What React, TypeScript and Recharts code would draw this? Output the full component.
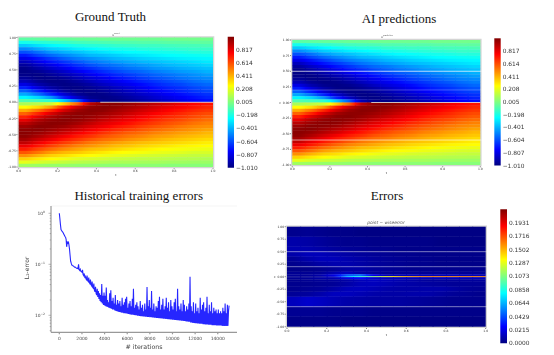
import { ComposedChart, Line, XAxis, YAxis, ReferenceArea, ReferenceLine } from "recharts";

// x rows from top to bottom, each 0.05 high; t columns share one width
const xTopEdges = [
  1, 0.95, 0.9, 0.85, 0.8, 0.75, 0.7, 0.65, 0.6, 0.55, 0.5, 0.45, 0.4, 0.35, 0.3, 0.25, 0.2, 0.15, 0.1, 0.05,
  0, -0.05, -0.1, -0.15, -0.2, -0.25, -0.3, -0.35, -0.4, -0.45, -0.5, -0.55, -0.6, -0.65, -0.7, -0.75, -0.8, -0.85, -0.9, -0.95, -1,
];
const tEdges = [0, 0.067, 0.133, 0.2, 0.267, 0.333, 0.4, 0.467, 0.533, 0.6, 0.667, 0.733, 0.8, 0.867, 0.933, 1];

const exactRows = [
  [-0.07, -0.06, -0.05, -0.05, -0.04, -0.04, -0.03, -0.03, -0.03, -0.03, -0.03, -0.02, -0.02, -0.02, -0.02],
  [-0.21, -0.18, -0.16, -0.14, -0.12, -0.11, -0.1, -0.09, -0.09, -0.08, -0.08, -0.07, -0.07, -0.06, -0.06],
  [-0.35, -0.3, -0.26, -0.23, -0.2, -0.18, -0.17, -0.15, -0.14, -0.13, -0.13, -0.12, -0.11, -0.11, -0.1],
  [-0.48, -0.41, -0.35, -0.32, -0.28, -0.26, -0.23, -0.21, -0.2, -0.18, -0.17, -0.16, -0.15, -0.14, -0.14],
  [-0.6, -0.53, -0.45, -0.4, -0.37, -0.33, -0.3, -0.27, -0.25, -0.24, -0.22, -0.21, -0.2, -0.18, -0.18],
  [-0.71, -0.62, -0.55, -0.49, -0.44, -0.39, -0.37, -0.34, -0.31, -0.29, -0.27, -0.25, -0.24, -0.23, -0.22],
  [-0.8, -0.72, -0.64, -0.57, -0.51, -0.47, -0.43, -0.39, -0.37, -0.34, -0.32, -0.3, -0.28, -0.27, -0.26],
  [-0.89, -0.8, -0.72, -0.65, -0.59, -0.53, -0.49, -0.45, -0.42, -0.39, -0.37, -0.35, -0.33, -0.31, -0.29],
  [-0.95, -0.87, -0.8, -0.72, -0.66, -0.6, -0.55, -0.52, -0.48, -0.45, -0.42, -0.39, -0.37, -0.35, -0.33],
  [-0.99, -0.93, -0.86, -0.79, -0.72, -0.67, -0.61, -0.57, -0.53, -0.5, -0.46, -0.44, -0.41, -0.39, -0.37],
  [-1, -0.97, -0.92, -0.86, -0.79, -0.73, -0.67, -0.62, -0.58, -0.55, -0.51, -0.48, -0.45, -0.43, -0.4],
  [-0.99, -1, -0.96, -0.91, -0.86, -0.79, -0.73, -0.68, -0.64, -0.6, -0.56, -0.53, -0.5, -0.47, -0.44],
  [-0.96, -1, -0.99, -0.96, -0.9, -0.84, -0.79, -0.73, -0.69, -0.64, -0.6, -0.57, -0.53, -0.5, -0.48],
  [-0.9, -0.97, -1, -0.99, -0.95, -0.89, -0.83, -0.79, -0.74, -0.69, -0.65, -0.61, -0.58, -0.54, -0.51],
  [-0.81, -0.92, -0.98, -1, -0.98, -0.94, -0.88, -0.83, -0.79, -0.74, -0.69, -0.65, -0.62, -0.58, -0.55],
  [-0.7, -0.83, -0.93, -0.99, -1, -0.97, -0.93, -0.88, -0.83, -0.78, -0.73, -0.69, -0.66, -0.62, -0.59],
  [-0.57, -0.7, -0.84, -0.95, -0.99, -0.99, -0.96, -0.92, -0.87, -0.82, -0.77, -0.73, -0.69, -0.65, -0.62],
  [-0.42, -0.54, -0.69, -0.85, -0.96, -1, -0.99, -0.95, -0.91, -0.86, -0.82, -0.77, -0.73, -0.69, -0.66],
  [-0.26, -0.33, -0.46, -0.7, -0.87, -0.98, -1, -0.98, -0.94, -0.9, -0.85, -0.81, -0.77, -0.73, -0.69],
  [-0.09, -0.12, -0.16, -0.36, -0.57, -0.9, -0.99, -1, -0.97, -0.93, -0.89, -0.85, -0.8, -0.76, -0.73],
  [0.09, 0.12, 0.16, 0.36, 0.57, 0.9, 0.99, 1, 0.97, 0.93, 0.89, 0.85, 0.8, 0.76, 0.73],
  [0.26, 0.33, 0.46, 0.7, 0.87, 0.98, 1, 0.98, 0.94, 0.9, 0.85, 0.81, 0.77, 0.73, 0.69],
  [0.42, 0.54, 0.69, 0.85, 0.96, 1, 0.99, 0.95, 0.91, 0.86, 0.82, 0.77, 0.73, 0.69, 0.66],
  [0.57, 0.7, 0.84, 0.95, 0.99, 0.99, 0.96, 0.92, 0.87, 0.82, 0.77, 0.73, 0.69, 0.65, 0.62],
  [0.7, 0.83, 0.93, 0.99, 1, 0.97, 0.93, 0.88, 0.83, 0.78, 0.73, 0.69, 0.66, 0.62, 0.59],
  [0.81, 0.92, 0.98, 1, 0.98, 0.94, 0.88, 0.83, 0.79, 0.74, 0.69, 0.65, 0.62, 0.58, 0.55],
  [0.9, 0.97, 1, 0.99, 0.95, 0.89, 0.83, 0.79, 0.74, 0.69, 0.65, 0.61, 0.58, 0.54, 0.51],
  [0.96, 1, 0.99, 0.96, 0.9, 0.84, 0.79, 0.73, 0.69, 0.64, 0.6, 0.57, 0.53, 0.5, 0.48],
  [0.99, 1, 0.96, 0.91, 0.86, 0.79, 0.73, 0.68, 0.64, 0.6, 0.56, 0.53, 0.5, 0.47, 0.44],
  [1, 0.97, 0.92, 0.86, 0.79, 0.73, 0.67, 0.62, 0.58, 0.55, 0.51, 0.48, 0.45, 0.43, 0.4],
  [0.99, 0.93, 0.86, 0.79, 0.72, 0.67, 0.61, 0.57, 0.53, 0.5, 0.46, 0.44, 0.41, 0.39, 0.37],
  [0.95, 0.87, 0.8, 0.72, 0.66, 0.6, 0.55, 0.52, 0.48, 0.45, 0.42, 0.39, 0.37, 0.35, 0.33],
  [0.89, 0.8, 0.72, 0.65, 0.59, 0.53, 0.49, 0.45, 0.42, 0.39, 0.37, 0.35, 0.33, 0.31, 0.29],
  [0.8, 0.72, 0.64, 0.57, 0.51, 0.47, 0.43, 0.39, 0.37, 0.34, 0.32, 0.3, 0.28, 0.27, 0.26],
  [0.71, 0.62, 0.55, 0.49, 0.44, 0.39, 0.37, 0.34, 0.31, 0.29, 0.27, 0.25, 0.24, 0.23, 0.22],
  [0.6, 0.53, 0.45, 0.4, 0.37, 0.33, 0.3, 0.27, 0.25, 0.24, 0.22, 0.21, 0.2, 0.18, 0.18],
  [0.48, 0.41, 0.35, 0.32, 0.28, 0.26, 0.23, 0.21, 0.2, 0.18, 0.17, 0.16, 0.15, 0.14, 0.14],
  [0.35, 0.3, 0.26, 0.23, 0.2, 0.18, 0.17, 0.15, 0.14, 0.13, 0.13, 0.12, 0.11, 0.11, 0.1],
  [0.21, 0.18, 0.16, 0.14, 0.12, 0.11, 0.1, 0.09, 0.09, 0.08, 0.08, 0.07, 0.07, 0.06, 0.06],
  [0.07, 0.06, 0.05, 0.05, 0.04, 0.04, 0.03, 0.03, 0.03, 0.03, 0.03, 0.02, 0.02, 0.02, 0.02],
];

// rows of the error panel are uneven, the middle one is the thin line at x = 0
const errorXEdges = [1, 0.8, 0.6, 0.5, 0.4, 0.3, 0.2, 0.1, 0.05, 0.009, -0.009, -0.05, -0.1, -0.2, -0.3, -0.4, -0.6, -0.8, -1];
const errorRows = [
  [0.003, 0.004, 0.003, 0.002, 0.002, 0.001, 0.001, 0.001, 0.001, 0.001, 0.001, 0.001, 0.001, 0.001, 0.001],
  [0.009, 0.008, 0.006, 0.004, 0.003, 0.003, 0.002, 0.002, 0.002, 0.002, 0.002, 0.001, 0.001, 0.001, 0.001],
  [0.01, 0.01, 0.008, 0.006, 0.005, 0.004, 0.003, 0.003, 0.002, 0.002, 0.002, 0.002, 0.002, 0.002, 0.002],
  [0.009, 0.012, 0.012, 0.01, 0.008, 0.006, 0.005, 0.004, 0.003, 0.003, 0.002, 0.002, 0.002, 0.002, 0.002],
  [0.005, 0.009, 0.012, 0.012, 0.01, 0.008, 0.006, 0.005, 0.004, 0.003, 0.003, 0.002, 0.002, 0.002, 0.002],
  [0.003, 0.005, 0.008, 0.01, 0.01, 0.008, 0.006, 0.005, 0.004, 0.003, 0.003, 0.002, 0.002, 0.002, 0.002],
  [0.002, 0.002, 0.003, 0.005, 0.008, 0.008, 0.006, 0.005, 0.004, 0.003, 0.003, 0.003, 0.003, 0.003, 0.003],
  [0.004, 0.004, 0.005, 0.01, 0.014, 0.009, 0.006, 0.005, 0.005, 0.005, 0.005, 0.005, 0.005, 0.005, 0.005],
  [0.005, 0.005, 0.009, 0.02, 0.045, 0.05, 0.022, 0.011, 0.011, 0.011, 0.011, 0.011, 0.011, 0.011, 0.011],
  [0.004, 0.004, 0.006, 0.018, 0.065, 0.09, 0.11, 0.13, 0.145, 0.155, 0.16, 0.16, 0.16, 0.16, 0.16],
  [0.004, 0.005, 0.008, 0.01, 0.022, 0.028, 0.016, 0.012, 0.012, 0.012, 0.012, 0.012, 0.012, 0.012, 0.012],
  [0.003, 0.004, 0.005, 0.006, 0.008, 0.012, 0.014, 0.012, 0.01, 0.008, 0.006, 0.006, 0.006, 0.006, 0.006],
  [0.003, 0.003, 0.004, 0.005, 0.008, 0.012, 0.013, 0.011, 0.009, 0.008, 0.007, 0.006, 0.005, 0.005, 0.005],
  [0.003, 0.004, 0.005, 0.008, 0.012, 0.013, 0.011, 0.009, 0.008, 0.008, 0.009, 0.009, 0.007, 0.005, 0.004],
  [0.005, 0.006, 0.009, 0.013, 0.013, 0.011, 0.009, 0.008, 0.008, 0.009, 0.009, 0.007, 0.005, 0.004, 0.003],
  [0.013, 0.016, 0.014, 0.011, 0.009, 0.008, 0.007, 0.007, 0.007, 0.006, 0.005, 0.004, 0.003, 0.003, 0.003],
  [0.004, 0.004, 0.004, 0.003, 0.003, 0.003, 0.002, 0.002, 0.002, 0.002, 0.002, 0.002, 0.002, 0.002, 0.002],
  [0.002, 0.002, 0.002, 0.002, 0.001, 0.001, 0.001, 0.001, 0.001, 0.001, 0.001, 0.001, 0.001, 0.001, 0.001],
];

const tTicks = [0, 0.2, 0.4, 0.6, 0.8, 1];
const xTicks = [1, 0.75, 0.5, 0.25, 0, -0.25, -0.5, -0.75, -1];
const predictionGaps = [0.5, 0.2, -0.6];
const fieldBarTicks = [-1.01, -0.807, -0.604, -0.401, -0.198, 0.005, 0.208, 0.411, 0.614, 0.817];
const errorBarTicks = [0, 0.0215, 0.0429, 0.0644, 0.0858, 0.1073, 0.1287, 0.1502, 0.1716, 0.1931];

// training error, one reading every 50 iterations, one line per 1000
const lossValues = [
  1.0, 0.78, 0.6, 0.48, 0.46, 0.44, 0.43, 0.41, 0.39, 0.37, 0.35, 0.34, 0.31, 0.22, 0.27, 0.26, 0.28, 0.24, 0.2, 0.15,
  0.115, 0.105, 0.097, 0.095, 0.094, 0.092, 0.09, 0.088, 0.088, 0.086, 0.085, 0.083, 0.084, 0.082, 0.1, 0.079, 0.076, 0.08, 0.073, 0.072,
  0.07, 0.078, 0.063, 0.06, 0.066, 0.056, 0.058, 0.052, 0.05, 0.06, 0.048, 0.046, 0.055, 0.044, 0.042, 0.05, 0.04, 0.038, 0.046, 0.035,
  0.034, 0.042, 0.031, 0.029, 0.036, 0.027, 0.025, 0.033, 0.023, 0.03, 0.021, 0.027, 0.019, 0.025, 0.018, 0.041, 0.017, 0.024, 0.016, 0.028,
  0.0155, 0.024, 0.015, 0.035, 0.0148, 0.02, 0.0145, 0.018, 0.014, 0.027, 0.0138, 0.031, 0.0135, 0.019, 0.013, 0.022, 0.013, 0.017, 0.0125, 0.025,
  0.0122, 0.016, 0.012, 0.02, 0.0118, 0.017, 0.0116, 0.019, 0.0115, 0.015, 0.0113, 0.022, 0.0112, 0.016, 0.011, 0.018, 0.011, 0.021, 0.0108, 0.023,
  0.0108, 0.014, 0.0106, 0.017, 0.0105, 0.019, 0.0104, 0.015, 0.0103, 0.021, 0.0102, 0.033, 0.0101, 0.014, 0.01, 0.016, 0.01, 0.018, 0.0098, 0.015,
  0.0098, 0.013, 0.0097, 0.019, 0.0096, 0.014, 0.0096, 0.016, 0.0095, 0.012, 0.0095, 0.017, 0.0094, 0.013, 0.0094, 0.036, 0.0093, 0.015, 0.0093, 0.02,
  0.0092, 0.014, 0.0092, 0.03, 0.0091, 0.013, 0.0091, 0.017, 0.009, 0.012, 0.009, 0.015, 0.0089, 0.014, 0.0089, 0.019, 0.0088, 0.023, 0.0088, 0.013,
  0.0087, 0.016, 0.0087, 0.021, 0.0086, 0.013, 0.0086, 0.015, 0.0085, 0.022, 0.0085, 0.014, 0.0084, 0.018, 0.0084, 0.012, 0.0083, 0.02, 0.0083, 0.015,
  0.0082, 0.013, 0.0082, 0.018, 0.0081, 0.021, 0.0081, 0.012, 0.008, 0.033, 0.008, 0.015, 0.0079, 0.013, 0.0079, 0.017, 0.0078, 0.012, 0.0078, 0.02,
  0.0077, 0.016, 0.0077, 0.012, 0.0076, 0.015, 0.0076, 0.013, 0.0075, 0.017, 0.0075, 0.057, 0.0072, 0.015, 0.0072, 0.012, 0.0071, 0.018, 0.0071, 0.011,
  0.007, 0.017, 0.007, 0.012, 0.0069, 0.014, 0.0069, 0.011, 0.0068, 0.022, 0.0068, 0.013, 0.0068, 0.016, 0.0067, 0.018, 0.0067, 0.012, 0.0066, 0.014,
  0.0066, 0.023, 0.0066, 0.011, 0.0065, 0.016, 0.0065, 0.012, 0.0065, 0.018, 0.0064, 0.011, 0.0064, 0.014, 0.0064, 0.012, 0.0064, 0.013, 0.0063, 0.011,
  0.0063, 0.013, 0.0063, 0.011, 0.0063, 0.012, 0.0063, 0.011, 0.0062, 0.014, 0.0062, 0.012, 0.0062, 0.017, 0.0062, 0.011, 0.0062, 0.016, 0.0062, 0.012,
  0.0155,
];
const iterationTicks = [0, 2000, 4000, 6000, 8000, 10000, 12000, 14000];
const lossMajorTicks = [1, 0.1, 0.01];
const lossMinorTicks = [
  0.9, 0.8, 0.7, 0.6, 0.5, 0.4, 0.3, 0.2, 0.09, 0.08, 0.07, 0.06, 0.05, 0.04, 0.03, 0.02, 0.009, 0.008, 0.007, 0.006, 0.005,
];
const lossData = lossValues.map((error, i) => ({ iteration: i * 50, error }));

const W = 554;
const H = 355;

function jet(ratio: number) {
  const c = (v: number) => Math.round(255 * Math.min(1, Math.max(0, v)));
  const r = Math.abs(4 * ratio - 3);
  const g = Math.abs(4 * ratio - 2);
  const b = Math.abs(4 * ratio - 1);
  return `rgb(${c(1.5 - r)},${c(1.5 - g)},${c(1.5 - b)})`;
}

function Layer({ children, blur = 0.5 }: { children: any; blur?: number }) {
  return <div style={{ position: "absolute", left: 0, top: 0, filter: `blur(${blur}px)` }}>{children}</div>;
}

function Heatmap({
  id,
  rows,
  xEdges,
  left,
  right,
  top,
  bottom,
  min,
  max,
  gaps = [],
  gapOpacity = [],
  seam = false,
  yLabel = false,
}: {
  id: string;
  rows: number[][];
  xEdges: number[];
  left: number;
  right: number;
  top: number;
  bottom: number;
  min: number;
  max: number;
  gaps?: number[];
  gapOpacity?: number[];
  seam?: boolean;
  yLabel?: boolean;
}) {
  // the light frame sits just outside the image, so the domains run a little past it
  const padX = 1.3 / (right - left);
  const padY = (1.3 * 2) / (bottom - top);
  const lap = 0.004;
  // corners of the image, they give the chart a series to hold its axes
  const corners = [
    { t: 0, x: -1 },
    { t: 1, x: 1 },
  ];
  const ratio = (v: number) => (v - min) / (max - min);
  return (
    <Layer blur={0.6}>
      <ComposedChart
        width={W}
        height={H}
        data={corners}
        margin={{ top: top - 1.3, left: left - 1.3 - 12, right: W - right - 1.3, bottom: H - bottom - 1.3 - 8 }}
      >
        <defs>
          {/* each cell fades to its neighbours across t so columns do not show as blocks */}
          {rows.flatMap((row, r) =>
            row.map((value, c) => {
              const before = (row[Math.max(0, c - 1)] + value) / 2;
              const after = (row[Math.min(row.length - 1, c + 1)] + value) / 2;
              return (
                <linearGradient key={`${r}-${c}`} id={`${id}-${r}-${c}`} x1="0" y1="0" x2="1" y2="0">
                  <stop offset={0} stopColor={jet(ratio(before))} />
                  <stop offset={0.5} stopColor={jet(ratio(value))} />
                  <stop offset={1} stopColor={jet(ratio(after))} />
                </linearGradient>
              );
            })
          )}
        </defs>
        <XAxis
          type="number"
          dataKey="t"
          domain={[-padX, 1 + padX]}
          ticks={tTicks}
          height={8}
          axisLine={false}
          tickSize={1}
          tickMargin={0.5}
          stroke="#777"
          tick={{ fontSize: 3, fill: "#333", fontFamily: "DejaVu Sans" }}
          tickFormatter={(v: number) => v.toFixed(1)}
          interval={0}
          label={{ value: "t", position: "insideBottom", offset: 0.5, fontSize: 3, fill: "#333", fontFamily: "DejaVu Sans" }}
        />
        <YAxis
          type="number"
          dataKey="x"
          domain={[-1 - padY, 1 + padY]}
          ticks={xTicks}
          width={12}
          axisLine={false}
          tickSize={1}
          tickMargin={0.5}
          stroke="#777"
          tick={{ fontSize: 3, fill: "#333", fontFamily: "DejaVu Sans" }}
          tickFormatter={(v: number) => v.toFixed(2)}
          interval={0}
          label={yLabel ? { value: "x", position: "insideLeft", offset: 0, fontSize: 3, fill: "#333", fontFamily: "DejaVu Sans" } : undefined}
        />
        <ReferenceArea x1={-padX} x2={1 + padX} y1={-1 - padY} y2={1 + padY} fill="#d4d4d4" fillOpacity={1} stroke="none" ifOverflow="visible" />
        {rows.flatMap((row, r) =>
          row.map((_, c) => (
            <ReferenceArea
              key={`${r}-${c}`}
              x1={tEdges[c]}
              x2={Math.min(1, tEdges[c + 1] + lap)}
              y1={xEdges[r]}
              y2={Math.max(-1, xEdges[r + 1] - lap)}
              fill={`url(#${id}-${r}-${c})`}
              fillOpacity={1}
              stroke="none"
              ifOverflow="visible"
            />
          ))
        )}
        {gaps.map((x, i) => (
          <ReferenceLine key={x} y={x} stroke="#ffffff" strokeOpacity={gapOpacity[i]} strokeWidth={1} />
        ))}
        {seam && (
          <ReferenceLine
            segment={[
              { x: 0.42, y: 0 },
              { x: 1, y: 0 },
            ]}
            stroke="#f0f0e0"
            strokeOpacity={0.85}
            strokeWidth={0.9}
          />
        )}
        <Line dataKey="x" stroke="none" dot={false} legendType="none" isAnimationActive={false} />
      </ComposedChart>
    </Layer>
  );
}

function Colorbar({
  left,
  right,
  top,
  bottom,
  min,
  max,
  ticks,
  digits,
  id,
}: {
  left: number;
  right: number;
  top: number;
  bottom: number;
  min: number;
  max: number;
  ticks: number[];
  digits: number;
  id: string;
}) {
  const stops = [0, 0.125, 0.375, 0.625, 0.875, 1];
  const ends = [
    { s: 0, v: min },
    { s: 1, v: max },
  ];
  return (
    <Layer blur={0.3}>
      <ComposedChart
        width={W}
        height={H}
        data={ends}
        margin={{ top, left, right: W - right - 28, bottom: H - bottom }}
      >
        <defs>
          <linearGradient id={id} x1="0" y1="1" x2="0" y2="0">
            {stops.map((s) => (
              <stop key={s} offset={s} stopColor={jet(s)} />
            ))}
          </linearGradient>
        </defs>
        <XAxis type="number" dataKey="s" domain={[0, 1]} hide />
        <YAxis
          type="number"
          dataKey="v"
          orientation="right"
          domain={[min, max]}
          ticks={ticks}
          width={28}
          axisLine={false}
          tickLine={false}
          tickSize={0}
          tickMargin={2}
          stroke="#333"
          interval={0}
          tick={{ fontSize: 5.9, fill: "#333", fontFamily: "DejaVu Sans", textAnchor: "start" }}
          tickFormatter={(v: number) => v.toFixed(digits).replace("-", "\u2212")}
        />
        <ReferenceArea x1={0} x2={1} y1={min} y2={max} fill={`url(#${id})`} fillOpacity={1} stroke="none" ifOverflow="visible" />
        <Line dataKey="v" stroke="none" dot={false} legendType="none" isAnimationActive={false} />
      </ComposedChart>
    </Layer>
  );
}

function LossTick({ x, y, payload }: any) {
  const major = lossMajorTicks.includes(payload.value);
  return (
    <g>
      <line x1={x} x2={x - (major ? 2.5 : 1.3)} y1={y} y2={y} stroke="#777" strokeWidth={0.5} />
      {major && (
        <text x={x - 6} y={y + 1.5} textAnchor="end" fontSize={4.4} fill="#444" fontFamily="DejaVu Sans">
          10
          <tspan dy={-1.6} fontSize={3}>
            {payload.value === 1 ? "0" : payload.value === 0.1 ? "\u22121" : "\u22122"}
          </tspan>
        </text>
      )}
    </g>
  );
}

function LossChart() {
  return (
    <Layer blur={0.35}>
      <ComposedChart
        width={W}
        height={H}
        data={lossData}
        margin={{ top: 206, left: 31, right: W - 237, bottom: H - 332.3 - 20 }}
      >
        <XAxis
          type="number"
          dataKey="iteration"
          domain={[-735, 15700]}
          ticks={iterationTicks}
          height={20}
          interval={0}
          tickSize={2}
          tickMargin={2.5}
          stroke="#999"
          strokeWidth={1.2}
          tick={{ fontSize: 4.4, fill: "#444", fontFamily: "DejaVu Sans" }}
          label={{ value: "# iterations", position: "insideBottom", offset: 3.5, fontSize: 6.3, fill: "#444", fontFamily: "DejaVu Sans" }}
        />
        <YAxis
          type="number"
          scale="log"
          domain={[0.00464, 1.39]}
          allowDataOverflow
          ticks={[...lossMajorTicks, ...lossMinorTicks]}
          width={20}
          interval={0}
          tickSize={0}
          tickMargin={0}
          stroke="#999"
          strokeWidth={1.2}
          tick={<LossTick />}
          label={{ value: "L\u2082-error", angle: -90, position: "insideLeft", offset: -4, dy: 10, fontSize: 6, fill: "#444", fontFamily: "DejaVu Sans" }}
        />
        <ReferenceLine y={1.39} stroke="#eeeeee" strokeWidth={0.6} />
        <Line
          type="linear"
          dataKey="error"
          stroke="#0000ff"
          strokeOpacity={0.85}
          strokeWidth={1.1}
          dot={false}
          isAnimationActive={false}
        />
      </ComposedChart>
    </Layer>
  );
}

function Title({ text, cx, cy }: { text: string; cx: number; cy: number }) {
  return (
    <div
      style={{
        position: "absolute",
        left: cx - 100,
        top: cy - 9,
        width: 200,
        height: 18,
        lineHeight: "18px",
        textAlign: "center",
        fontFamily: "Liberation Serif",
        fontSize: 13,
        color: "#111",
      }}
    >
      {text}
    </div>
  );
}

function SmallCaption({ cx, cy, size, children }: { cx: number; cy: number; size: number; children: any }) {
  return (
    <div
      style={{
        position: "absolute",
        left: cx - 30,
        top: cy - 3,
        width: 60,
        height: 6,
        lineHeight: "6px",
        textAlign: "center",
        fontFamily: "DejaVu Sans",
        fontSize: size,
        color: "#555",
        filter: "blur(0.3px)",
      }}
    >
      {children}
    </div>
  );
}

export default function App() {
  return (
    <div style={{ position: "absolute", left: 0, top: 0, width: W, height: H, background: "#fff", overflow: "hidden" }}>
      <Heatmap id="exact" rows={exactRows} xEdges={xTopEdges} left={18.7} right={213} top={37.5} bottom={167} min={-1.01} max={1.02} seam />
      <Colorbar left={227.7} right={234} top={36.7} bottom={167.7} min={-1.01} max={1.02} ticks={fieldBarTicks} digits={3} id="barExact" />

      {/* prediction reads the same as the exact field at this size, only the gaps differ */}
      <Heatmap id="pred" rows={exactRows} xEdges={xTopEdges} left={292.3} right={480.3} top={40} bottom={165} min={-1.01} max={1.02} gaps={predictionGaps} gapOpacity={[0.65, 0.25, 0.6]} seam yLabel />
      <Colorbar left={494.3} right={500.7} top={38.3} bottom={165.5} min={-1.01} max={1.02} ticks={fieldBarTicks} digits={3} id="barPred" />

      <LossChart />

      <Heatmap id="error" rows={errorRows} xEdges={errorXEdges} left={287} right={485.7} top={226.7} bottom={326.7} min={0} max={0.2146} gaps={predictionGaps} gapOpacity={[0.45, 0.4, 0.45]} yLabel />
      <Colorbar left={500.3} right={507} top={209.3} bottom={343.3} min={0} max={0.2146} ticks={errorBarTicks} digits={4} id="barError" />

      <Title text="Ground Truth" cx={110.5} cy={16.5} />
      <Title text="AI predictions" cx={399} cy={18.5} />
      <Title text="Historical training errors" cx={138.7} cy={195.7} />
      <Title text="Errors" cx={387} cy={196} />

      <SmallCaption cx={116} cy={33} size={3}>
        u<sup style={{ fontSize: 2 }}>exact</sup>
      </SmallCaption>
      <SmallCaption cx={387} cy={35} size={3}>
        u<sup style={{ fontSize: 2 }}>prediction</sup>
      </SmallCaption>
      <SmallCaption cx={386} cy={223} size={4.3}>
        <i>point − wiseerror</i>
      </SmallCaption>
    </div>
  );
}
